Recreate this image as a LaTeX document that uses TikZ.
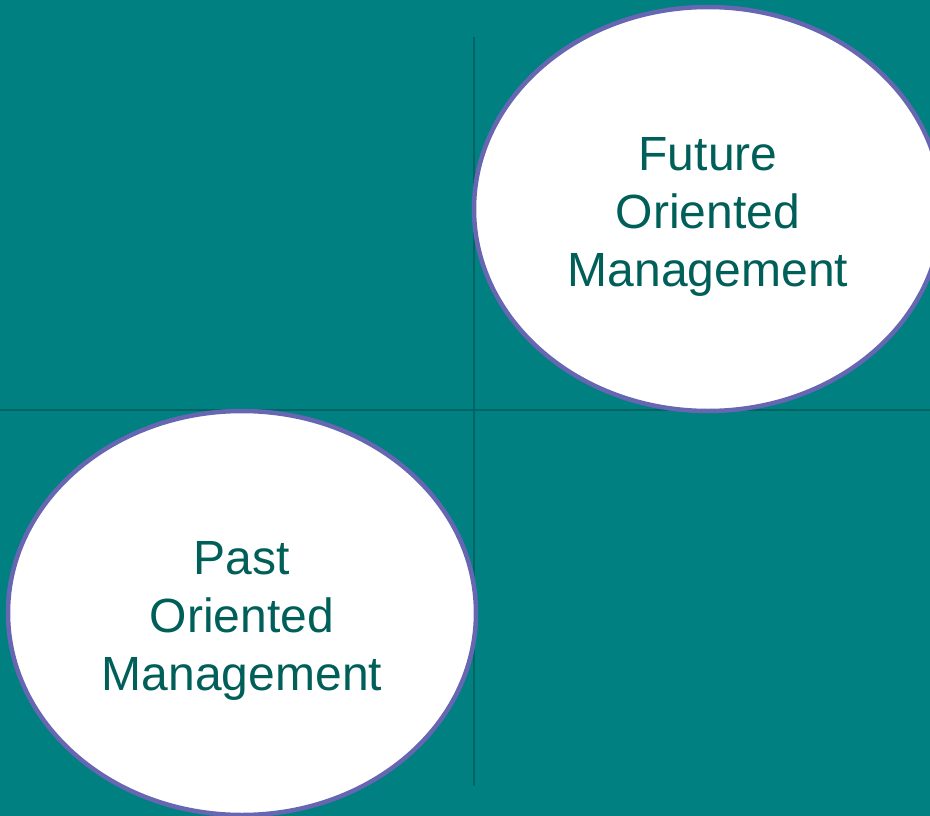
\documentclass[tikz,border=0pt]{standalone}
\usepackage{fontspec}
\setmainfont{Liberation Sans}
\usetikzlibrary{shapes.geometric}
\definecolor{bgteal}{HTML}{008080}
\definecolor{linecol}{HTML}{006464}
\definecolor{rimcol}{HTML}{6666B3}
\definecolor{txtcol}{HTML}{005F58}
\tikzset{
  oval/.style={ellipse, draw=rimcol, line width=4.5pt, fill=white, inner sep=0pt,
    minimum width=468pt, minimum height=404pt},
  ovaltext/.style={text=txtcol, align=center, yshift=-8pt, inner sep=0pt,
    font=\fontsize{48}{58}\selectfont},
  axis/.style={draw=linecol, line width=2pt}
}
\begin{document}
\begin{tikzpicture}[x=1pt,y=-1pt]
\useasboundingbox (0,0) rectangle (930,816);
\clip (0,0) rectangle (930,816);
\fill[bgteal] (0,0) rectangle (930,816);
\coordinate (vt) at (474,37);
\coordinate (vb) at (474,786);
\coordinate (hl) at (0,410);
\coordinate (hr) at (930,410);
\draw[axis] (vt) -- (vb);
\draw[axis] (hl) -- (hr);
\node[oval, label={[ovaltext]center:Future\\Oriented\\Management}] (future) at (708,209) {};
\node[oval, label={[ovaltext]center:Past\\Oriented\\Management}] (past) at (242,613) {};
\end{tikzpicture}
\end{document}
